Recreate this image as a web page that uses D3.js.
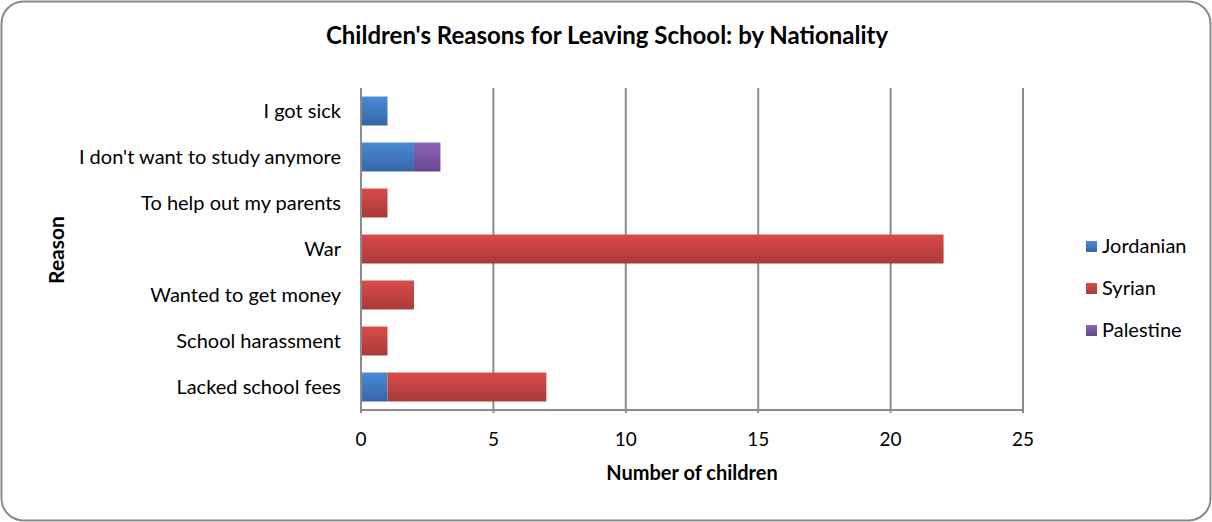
<!DOCTYPE html>
<html><head><meta charset="utf-8">
<script src="https://cdn.jsdelivr.net/npm/d3@7/dist/d3.min.js"></script>
<style>body{margin:0;background:#fff}svg{display:block}text{font-family:Lato,"Open Sans",sans-serif;fill:#000}</style>
</head><body><svg id="c" width="1212" height="522"></svg>
<script>
const categories = ["I got sick","I don't want to study anymore","To help out my parents","War","Wanted to get money","School harassment","Lacked school fees"];
const seriesNames = ["Jordanian","Syrian","Palestine"];
const jordanian = [1,2,0,0,0,0,1];
const syrian = [0,0,1,22,2,1,6];
const palestine = [0,1,0,0,0,0,0];
const xTicks = [0,5,10,15,20,25];
const colors = {Jordanian:["#4a8ad6","#3566a8"],Syrian:["#db4b4a","#a83a39"],Palestine:["#8a64b6","#674690"]};

(function(){
const svg = d3.select("#c");
const W=1212,H=522;
svg.append("rect").attr("x",1.5).attr("y",1.5).attr("width",W-3).attr("height",H-3).attr("rx",22).attr("fill","#fff").attr("stroke","#898989").attr("stroke-width",2);

const defs = svg.append("defs");
seriesNames.forEach(s=>{
  const g = defs.append("linearGradient").attr("id","g"+s).attr("x1",0).attr("y1",0).attr("x2",0).attr("y2",1);
  g.append("stop").attr("offset","0%").attr("stop-color",colors[s][0]);
  g.append("stop").attr("offset","100%").attr("stop-color",colors[s][1]);
});

const pl=361,pr=1023,pt=88,pb=410;
const x = d3.scaleLinear().domain([0,25]).range([pl,pr]);
const y = d3.scaleBand().domain(categories).range([pt,pb]).paddingInner(0.37).paddingOuter(0.185);

svg.append("g").selectAll("line").data(xTicks.slice(1)).join("line")
  .attr("x1",d=>x(d)).attr("x2",d=>x(d)).attr("y1",pt).attr("y2",pb+3)
  .attr("stroke","#8c8c8c").attr("stroke-width",2);

const data = categories.map((c,i)=>({cat:c,Jordanian:jordanian[i],Syrian:syrian[i],Palestine:palestine[i]}));
const stack = d3.stack().keys(seriesNames)(data);
svg.append("g").selectAll("g").data(stack).join("g")
  .attr("fill",d=>`url(#g${d.key})`)
  .selectAll("rect").data(d=>d.filter(p=>p[1]-p[0]>0)).join("rect")
  .attr("x",d=>x(d[0])).attr("width",d=>x(d[1])-x(d[0]))
  .attr("y",d=>y(d.data.cat)).attr("height",y.bandwidth());

svg.append("line").attr("x1",pl).attr("x2",pl).attr("y1",pt).attr("y2",pb+3).attr("stroke","#8c8c8c").attr("stroke-width",2);
svg.append("line").attr("x1",pl-1).attr("x2",pr+1).attr("y1",pb).attr("y2",pb).attr("stroke","#8c8c8c").attr("stroke-width",2);

svg.append("g").selectAll("text").data(xTicks).join("text")
  .attr("x",d=>x(d)).attr("y",446).attr("text-anchor","middle").style("font-size","19px").text(d=>d);
svg.append("g").selectAll("text").data(categories).join("text")
  .attr("x",341).attr("y",d=>y(d)+y.bandwidth()/2).attr("dy","0.35em").attr("text-anchor","end").style("font-size","20px").text(d=>d);

svg.append("text").attr("x",607).attr("y",44).attr("text-anchor","middle").style("font-size","24px").style("font-weight","bold").text("Children's Reasons for Leaving School: by Nationality");
svg.append("text").attr("x",(pl+pr)/2).attr("y",480).attr("text-anchor","middle").style("font-size","20px").style("font-weight","bold").text("Number of children");
svg.append("text").attr("transform","translate(64,250) rotate(-90)").attr("text-anchor","middle").style("font-size","21px").style("font-weight","bold").text("Reason");

const lg = svg.append("g").selectAll("g").data(seriesNames).join("g").attr("transform",(d,i)=>`translate(1086,${246+i*42})`);
lg.append("rect").attr("x",0).attr("y",-5).attr("width",11).attr("height",11).attr("fill",d=>`url(#g${d})`);
lg.append("text").attr("x",16).attr("y",0).attr("dy","0.35em").style("font-size","20px").text(d=>d);
})();
</script></body></html>
